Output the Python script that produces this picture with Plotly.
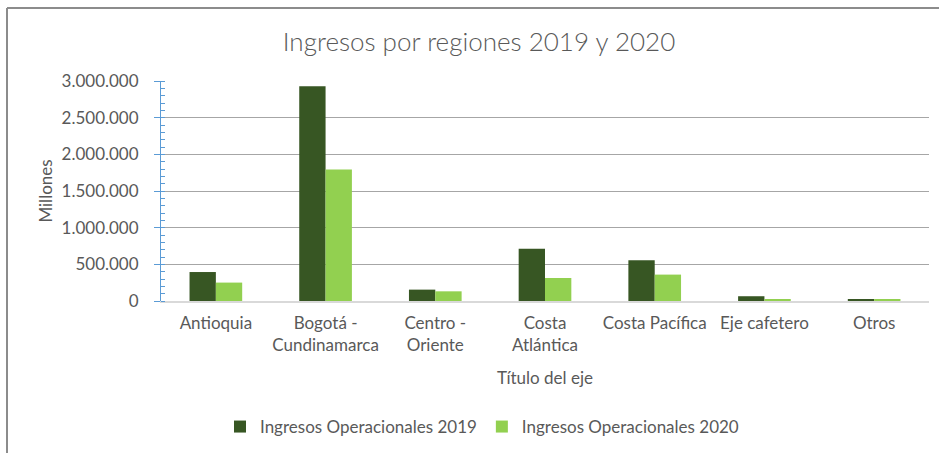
import plotly.graph_objects as go

# ---- data (values in millones) ----
regiones = ["Antioquia", "Bogotá - Cundinamarca", "Centro - Oriente", "Costa Atlántica",
            "Costa Pacífica", "Eje cafetero", "Otros"]
etiquetas = ["Antioquia", "Bogotá -<br>Cundinamarca", "Centro -<br>Oriente", "Costa<br>Atlántica",
             "Costa Pacífica", "Eje cafetero", "Otros"]
ingresos_2019 = [395000, 2928000, 155000, 714000, 555000, 65000, 20000]
ingresos_2020 = [251000, 1792000, 132000, 314000, 360000, 20000, 18000]
serie_2019 = "Ingresos Operacionales 2019"
serie_2020 = "Ingresos Operacionales 2020"
titulo = "Ingresos por regiones 2019 y 2020"
titulo_x = "Título del eje"
titulo_y = "Millones"

W, H = 939, 453
L, R, T, B = 161, 10, 81, 152
PW, PH = W - L - R, H - T - B

def px_x(x):
    return (x - L) / PW

def px_y(y):
    return (H - B - y) / PH

GRAY = "#595959"
BLUE = "#5B9BD5"
FONT = "Lato"
FS = 17

fig = go.Figure()
fig.add_trace(go.Bar(x=regiones, y=ingresos_2019, name=serie_2019,
                     marker=dict(color="#375623", line=dict(width=0))))
fig.add_trace(go.Bar(x=regiones, y=ingresos_2020, name=serie_2020,
                     marker=dict(color="#92D050", line=dict(width=0))))

border = "#8C8C8C"

fig.update_layout(
    width=W, height=H,
    margin=dict(l=L, r=R, t=T, b=B, autoexpand=False),
    paper_bgcolor="white", plot_bgcolor="white",
    separators=",.",
    font=dict(family=FONT, size=FS, color=GRAY),
    barmode="group", bargap=0.52, bargroupgap=0,
    title=dict(text=titulo, x=479 / W, xanchor="center", xref="container",
               y=(H - 42) / H, yanchor="middle", yref="container",
               font=dict(family=FONT, size=26, color=GRAY, weight=300)),
    showlegend=True,
    legend=dict(orientation="h", x=px_x(482), xanchor="center", y=px_y(427), yanchor="middle",
                font=dict(family=FONT, size=FS, color=GRAY), traceorder="normal"),
    xaxis=dict(
        tickmode="array", tickvals=regiones, ticktext=etiquetas,
        showgrid=False, showline=True, linecolor="#D9D9D9", linewidth=1.5,
        ticks="", ticklabelstandoff=6, automargin=False,
        tickfont=dict(family=FONT, size=FS, color=GRAY),
        title=dict(text=titulo_x, standoff=18, font=dict(family=FONT, size=FS, color=GRAY)),
    ),
    yaxis=dict(
        range=[0, 3000000], dtick=500000, tickformat=",d",
        showgrid=True, gridcolor="#A6A6A6", gridwidth=1,
        zeroline=False,
        showline=True, linecolor=BLUE, linewidth=1,
        ticks="outside", ticklen=6, tickcolor=BLUE, tickwidth=1,
        minor=dict(dtick=100000, ticks="inside", ticklen=4, tickcolor=BLUE, tickwidth=1, showgrid=False),
        ticklabelstandoff=12, automargin=False,
        tickfont=dict(family=FONT, size=FS, color=GRAY),
        title=dict(text=titulo_y, standoff=4, font=dict(family=FONT, size=FS, color=GRAY)),
    ),
    shapes=[
        dict(type="line", xref="paper", yref="paper",
             x0=px_x(7), x1=px_x(W + 20), y0=px_y(8), y1=px_y(8),
             line=dict(color=border, width=2), layer="above"),
        dict(type="line", xref="paper", yref="paper",
             x0=px_x(7), x1=px_x(7), y0=px_y(8), y1=px_y(H + 20),
             line=dict(color=border, width=2), layer="above"),
    ],
)

fig.write_html("out.html", config={"displayModeBar": False},
               post_script="document.body.style.margin='0px';")
